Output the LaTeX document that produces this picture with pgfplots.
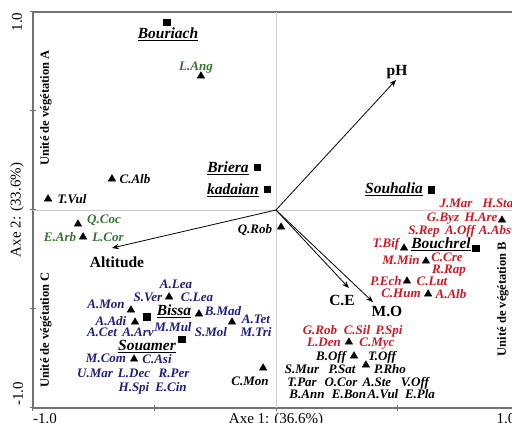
\documentclass[border=0pt]{standalone}
\usepackage{fontspec}
\setmainfont{Liberation Serif}
\usepackage{pgfplots}
\pgfplotsset{compat=1.18}
\usetikzlibrary{arrows.meta}
\definecolor{cred}{RGB}{205,25,35}
\definecolor{cblue}{RGB}{30,30,125}
\definecolor{cgreen}{RGB}{55,115,50}
\definecolor{axgray}{RGB}{115,115,115}
\definecolor{zgray}{RGB}{205,205,205}
% label placed by its reference-pixel centre (x px, y px)
\newcommand{\lab}[4][]{\node[#1] at (axis cs:{(#2-277)/243},{(210-#3)/198}) {#4};}
\tikzset{
  sp/.style={anchor=base, yshift=-4.4pt, inner sep=0pt, font=\fontsize{13}{14}\selectfont\bfseries\itshape},
  st/.style={anchor=base, yshift=-5.3pt, inner sep=0pt, font=\fontsize{15.5}{17}\selectfont\bfseries\itshape},
  vr/.style={anchor=base, yshift=-5.3pt, inner sep=0pt, font=\fontsize{15.5}{17}\selectfont\bfseries},
  ax/.style={anchor=base, inner sep=0pt, font=\fontsize{15}{16}\selectfont},
  un/.style={rotate=90, anchor=center, inner sep=0pt, font=\fontsize{12.5}{14}\selectfont\bfseries},
}
\begin{document}
\begin{tikzpicture}
\begin{axis}[
  name=ax, at={(0,0)}, anchor=south west,
  scale only axis, width=486pt, height=396pt,
  xmin=-1, xmax=1, ymin=-1, ymax=1,
  xtick={-1,-0.5,0,0.5,1}, ytick={-1,-0.5,0,0.5,1},
  xticklabels={,,,,}, yticklabels={,,,,},
  tick pos=left, tick align=center, major tick length=6pt,
  every tick/.style={axgray, line width=1pt},
  axis line style={axgray, line width=1.3pt},
  clip=false,
]
% zero lines
\addplot[zgray, line width=0.6pt] coordinates {(0,-1) (0,1)};
\addplot[zgray, line width=0.6pt] coordinates {(-1,0) (1,0)};
% environmental arrows
\addplot[black, line width=0.8pt, -{Stealth[length=7pt,width=5.5pt]}] coordinates {(0,0) (0.494,0.657)};
\addplot[black, line width=0.8pt, -{Stealth[length=7pt,width=5.5pt]}] coordinates {(0,0) (-0.675,-0.192)};
\addplot[black, line width=0.8pt, -{Stealth[length=7pt,width=5.5pt]}] coordinates {(0,0) (0.300,-0.394)};
\addplot[black, line width=0.8pt, -{Stealth[length=7pt,width=5.5pt]}] coordinates {(0,0) (0.399,-0.465)};
% species (triangles)
\addplot[only marks, mark=triangle*, mark size=4.3pt, black] coordinates {
(-0.309,0.677) (-0.675,0.157) (-0.938,0.056) (-0.815,-0.071) (-0.794,-0.136)
(0.021,-0.086) (0.930,-0.051) (0.527,-0.192) (0.617,-0.258) (0.539,-0.359)
(0.626,-0.424) (0.300,-0.667) (0.321,-0.737) (0.370,-0.783) (-0.440,-0.439)
(-0.597,-0.505) (-0.580,-0.566) (-0.317,-0.525) (-0.181,-0.566) (-0.584,-0.753)
(-0.053,-0.798)};
% sites (squares)
\addplot[only marks, mark=square*, mark size=3.3pt, black] coordinates {
(-0.449,0.949) (-0.078,0.217) (-0.037,0.106) (0.638,0.101) (0.823,-0.192)
(-0.531,-0.540) (-0.387,-0.652)};
% site names
\lab[st]{169}{33}{\underline{Bouriach}}
\lab[st]{229}{167}{\underline{Briera}}
\lab[st]{234}{189}{\underline{kadaian}}
\lab[st]{395}{188}{\underline{Souhalia}}
\lab[st]{442}{243}{\underline{Bouchrel}}
\lab[st]{175}{310}{\underline{Bissa}}
\lab[st]{148}{345}{\underline{Souamer}}
% variables
\lab[vr]{398}{70}{pH}
\lab[vr]{118}{262}{Altitude}
\lab[vr]{343}{300}{C.E}
\lab[vr]{388}{311}{M.O}
% green species
\lab[sp,cgreen]{197}{66}{L.Ang}
\lab[sp,cgreen]{105}{219}{Q.Coc}
\lab[sp,cgreen]{61}{237}{E.Arb}
\lab[sp,cgreen]{109}{237}{L.Cor}
% black species
\lab[sp]{136}{179}{C.Alb}
\lab[sp]{73}{199}{T.Vul}
\lab[sp]{256}{229}{Q.Rob}
\lab[sp]{251}{381}{C.Mon}
\lab[sp]{332}{356}{B.Off}
\lab[sp]{383}{356}{T.Off}
\lab[sp]{303}{369}{S.Mur}
\lab[sp]{343}{369}{P.Sat}
\lab[sp]{391}{369}{P.Rho}
\lab[sp]{303}{382}{T.Par}
\lab[sp]{342}{382}{O.Cor}
\lab[sp]{378}{382}{A.Ste}
\lab[sp]{416}{382}{V.Off}
\lab[sp]{308}{394}{B.Ann}
\lab[sp]{350}{394}{E.Bon}
\lab[sp]{384}{394}{A.Vul}
\lab[sp]{421}{394}{E.Pla}
% red species
\lab[sp,cred]{457}{203}{J.Mar}
\lab[sp,cred]{499}{203}{H.Sta}
\lab[sp,cred]{444}{217}{G.Byz}
\lab[sp,cred]{482}{217}{H.Are}
\lab[sp,cred]{425}{230}{S.Rep}
\lab[sp,cred]{461}{230}{A.Off}
\lab[sp,cred]{496}{230}{A.Abs}
\lab[sp,cred]{387}{243}{T.Bif}
\lab[sp,cred]{402}{260}{M.Min}
\lab[sp,cred]{448}{257}{C.Cre}
\lab[sp,cred]{450}{269}{R.Rap}
\lab[sp,cred]{387}{281}{P.Ech}
\lab[sp,cred]{433}{281}{C.Lut}
\lab[sp,cred]{402}{293}{C.Hum}
\lab[sp,cred]{452}{294}{A.Alb}
\lab[sp,cred]{321}{330}{G.Rob}
\lab[sp,cred]{358}{330}{C.Sil}
\lab[sp,cred]{390}{330}{P.Spi}
\lab[sp,cred]{325}{342}{L.Den}
\lab[sp,cred]{378}{342}{C.Myc}
% blue species
\lab[sp,cblue]{177}{284}{A.Lea}
\lab[sp,cblue]{149}{297}{S.Ver}
\lab[sp,cblue]{198}{297}{C.Lea}
\lab[sp,cblue]{107}{304}{A.Mon}
\lab[sp,cblue]{112}{321}{A.Adi}
\lab[sp,cblue]{103}{332}{A.Cet}
\lab[sp,cblue]{139}{332}{A.Arv}
\lab[sp,cblue]{174}{327}{M.Mul}
\lab[sp,cblue]{212}{332}{S.Mol}
\lab[sp,cblue]{224}{311}{B.Mad}
\lab[sp,cblue]{257}{319}{A.Tet}
\lab[sp,cblue]{257}{332}{M.Tri}
\lab[sp,cblue]{107}{358}{M.Com}
\lab[sp,cblue]{158}{359}{C.Asi}
\lab[sp,cblue]{96}{373}{U.Mar}
\lab[sp,cblue]{135}{373}{L.Dec}
\lab[sp,cblue]{175}{373}{R.Per}
\lab[sp,cblue]{135}{387}{H.Spi}
\lab[sp,cblue]{172}{387}{E.Cin}
% vegetation units
\lab[un]{47}{108}{Unité de végétation A}
\lab[un]{47}{330}{Unité de végétation C}
\lab[un]{504}{299}{Unité de végétation B}
% axis titles and tick labels
\lab[ax]{277}{424}{Axe 1: (36.6\%)}
\lab[ax]{46}{424}{-1.0}
\lab[ax]{507}{424}{1.0}
\lab[ax, rotate=90, anchor=center]{18}{210}{Axe 2: (33.6\%)}
\lab[ax, rotate=90, anchor=center]{18}{22}{1.0}
\lab[ax, rotate=90, anchor=center]{19}{394}{-1.0}
\end{axis}
\pgfresetboundingbox
\path ([shift={(-33pt,-15pt)}]ax.south west) rectangle ([shift={(-7pt,12pt)}]ax.north east);
\end{tikzpicture}
\end{document}
